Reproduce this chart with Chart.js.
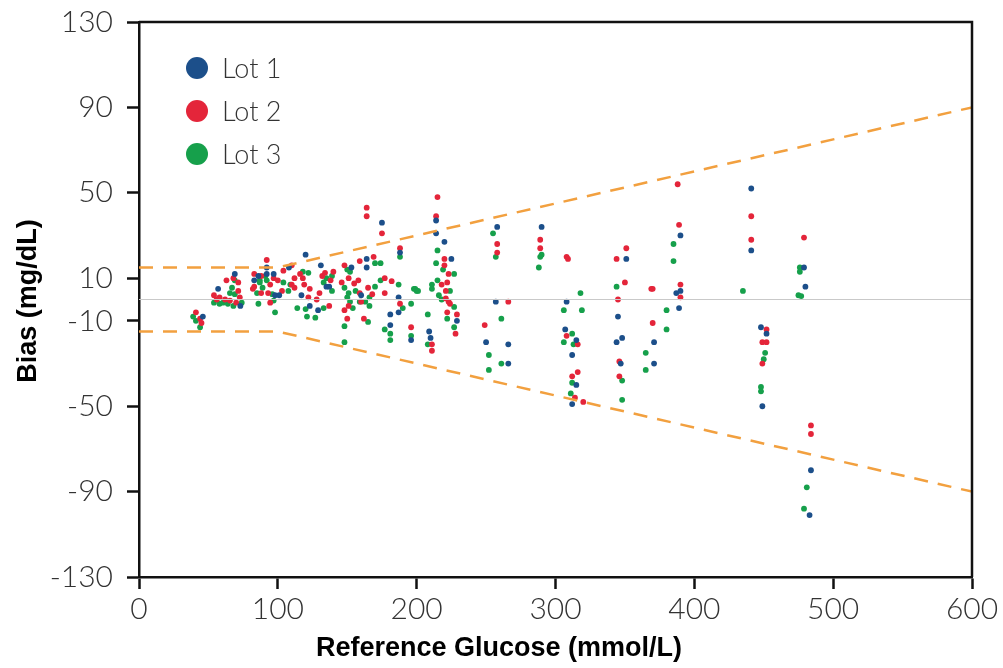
<!DOCTYPE html>
<html>
<head>
<meta charset="utf-8">
<script src="https://cdn.jsdelivr.net/npm/chart.js@4.4.1/dist/chart.umd.min.js"></script>
<style>
    html, body { margin: 0; padding: 0; background: #fff; }
    #wrap { width: 1003px; height: 668px; }
</style>
</head>
<body>
<div id="wrap"><canvas id="biasChart" width="1003" height="668"></canvas></div>
<script>
// ticks
var xTicks = [0, 100, 200, 300, 400, 500, 600];
var yTicks = [-130, -90, -50, -10, 10, 50, 90, 130];

// series labels + colours
var lotNames = ['Lot 1', 'Lot 2', 'Lot 3'];
var lotColors = ['#1c4f8a', '#e4253a', '#16a04b'];

// [reference glucose, bias]
var lot1 = [[46,-8],[57,5],[69,12],[73,-3],[83,9],[86,11],[92,12],[92,15],[97,12],[98,2],[101,2],[108,15],
    [117,2],[120,21],[123,-3],[129,-5],[131,16],[135,6],[137,6],[153,15],[160,2],[164,19],[164,15],[175,36],
    [181,-7],[181,-12],[187,1],[187,-6],[188,22],[196,-19],[209,-15],[210,-18],[214,37],[214,31],[220,27],
    [225,19],[229,-10],[250,-20],[257,-1],[258,34],[266,-21],[266,-30],[290,34],[307,-14],[308,-1],[312,-26],
    [315,-19],[315,-40],[312,-49],[344,-20],[345,-8],[347,-30],[348,-18],[351,19],[371,-20],[371,-30],
    [387,3],[390,4],[389,-4],[390,30],[441,52],[441,23],[448,-13],[452,-16],[449,-50],[479,15],[480,6],
    [484,-80],[483,-101]];

var lot2 = [[41,-6],[44,-9],[45,-11],[54,2],[56,0],[58,1],[62,0],[63,9],[65.5,-0.5],[68,10],[70,-1.5],
    [71.5,8],[71.5,4],[72.6,1],[82,5],[83,12],[83,6],[88,11],[88,3],[92,18.5],[93,3],[94.5,7],[94.5,-1.5],
    [97,10],[100,9],[103,4],[104,13.5],[110,16],[110,7],[112,10],[112,5.5],[116,12],[118,10],[119,7],[122,1],
    [123,5],[128,0],[130,3],[132,11],[134,12.5],[137,-3],[138,9],[140,13],[146,8],[148,16],[148,-5],[150,-9],
    [151,10],[151,-3],[155,7.5],[158,9],[159,18],[159,3],[160,-1],[162,-9],[164,43],[164,39],[165,5.5],
    [168,2.5],[169,20],[175,31],[177,10],[177,3],[182,8.6],[188,24],[188,-2],[196,-13],[211,-21],[211,-24],
    [215,48],[214,39],[218,7],[220,19],[220,16],[221,4],[221,0.5],[222,8],[222,-6],[223,12],[223,-1],[224,-2],
    [228,-16],[229,-7],[249,-12],[258,26],[258,22],[266,-1],[289,28],[289,24],[308,20],[309,19],[308,-17],
    [316,-21],[316,-34],[312,-36],[314,-46],[320,-48],[344,19],[345,0],[346,-29],[346,-36],[350,8],[351,24],
    [369,5],[370,5],[370,-11],[389,35],[390,7],[390,1],[388,54],[441,39],[441,28],[452,-14],[449,-20],
    [452,-20],[449,-30],[479,29],[484,-59],[484,-63]];

var lot3 = [[39,-8],[41,-10],[44,-13],[54,-1.5],[58,-2],[60.5,-1.5],[64,-2],[65.5,3],[67,5.5],[68,-3],[69,9],
    [69,2.5],[74,-1.5],[85,3],[86,-2],[87,9],[87,8],[89,5.5],[91,11],[92,9],[96,2.5],[97,-0.5],[98,-6],[104,8],
    [107.6,4],[109,7],[114,-4],[118,13],[120,-4.5],[121,-8],[122,12.5],[127,-8.5],[133,8],[133,-4],[135,10],
    [139,4],[139,11],[148,5.5],[148,-12.5],[148,-20],[150,14],[150,1],[151,3],[152,13],[152,-1],[154,-4],
    [156,4],[159,-1],[163,-1],[165,-10.5],[166,1],[166,-3],[170,17],[170,6],[174,17],[174,9],[177,-14],
    [181,-16],[181,-19],[187,7],[188,20],[190,-4],[196,-2],[196,-17],[198,5],[199,5],[200,4],[201,4],[208,-7],
    [208,-21],[211,7],[211,5],[214,17],[215,23],[215,9],[216,2],[218,0],[219,14],[222,-9],[224,4],[227,12],
    [227,-3.5],[227,-13],[252,-26],[252,-33],[255,31],[257,20],[261,-9],[261,-30],[288,15],[289,20],[290,21],
    [306,-5],[306,-20],[311,-44],[312,-16],[312,-39],[313,-21],[318,3],[319,-5],[344,6],[348,-38],[348,-47],
    [365,-25],[365,-33],[380,-5],[380,-14],[385,26],[385,18],[435,4],[448,-41],[448,-43],[450,-28],[451,-25],
    [476,15],[476,13],[475,2],[477,1.6],[481,-88],[479,-98]];

// +/-15 mg/dL below 100, +/-15% above
var limitX = [0, 100, 600];
var upperLimit = [15, 15, 90];
var lowerLimit = [-15, -15, -90];

function toPoints(arr) {
    return arr.map(function (p) { return { x: p[0], y: p[1] }; });
}

function limitPoints(ys) {
    return limitX.map(function (x, i) { return { x: x, y: ys[i] }; });
}

var tickFont = { family: 'Lato, "Open Sans", sans-serif', size: 30, weight: '300' };

// box, legend and axis titles
var decorPlugin = {
    id: 'decor',
    afterDraw: function (chart) {
        var ctx = chart.ctx;
        var a = chart.chartArea;
        ctx.save();
        ctx.strokeStyle = '#111';
        ctx.lineWidth = 2.5;
        ctx.beginPath();
        ctx.moveTo(a.left, a.top);
        ctx.lineTo(a.right, a.top);
        ctx.lineTo(a.right, a.bottom);
        ctx.stroke();

        // legend
        ctx.font = '300 27px Lato, "Open Sans", sans-serif';
        ctx.textBaseline = 'middle';
        ctx.textAlign = 'left';
        lotNames.forEach(function (name, i) {
            var cy = 68 + i * 43;
            ctx.fillStyle = lotColors[i];
            ctx.beginPath();
            ctx.arc(197, cy, 11, 0, Math.PI * 2);
            ctx.fill();
            ctx.fillStyle = '#333';
            ctx.fillText(name, 222, cy + 1);
        });

        // titles
        ctx.fillStyle = '#000';
        ctx.font = 'bold 27px "Liberation Sans", Arial, sans-serif';
        ctx.textAlign = 'center';
        ctx.fillText('Reference Glucose (mmol/L)', 499, 649);
        ctx.translate(29, 301);
        ctx.rotate(-Math.PI / 2);
        ctx.fillText('Bias (mg/dL)', 0, 0);
        ctx.restore();
    }
};

var scatterDs = [lot1, lot2, lot3].map(function (arr, i) {
    return {
        type: 'scatter',
        label: lotNames[i],
        data: toPoints(arr),
        backgroundColor: lotColors[i],
        borderColor: lotColors[i],
        borderWidth: 0,
        pointRadius: 2.9
    };
});

var lineDs = [
    { type: 'line', label: 'zero', data: [{ x: 0, y: 0 }, { x: 600, y: 0 }],
      borderColor: '#c9c9c9', borderWidth: 1.2, pointRadius: 0 },
    { type: 'line', label: 'upper', data: limitPoints(upperLimit),
      borderColor: '#f2a03f', borderWidth: 2.5, borderDash: [14, 10], pointRadius: 0 },
    { type: 'line', label: 'lower', data: limitPoints(lowerLimit),
      borderColor: '#f2a03f', borderWidth: 2.5, borderDash: [14, 10], pointRadius: 0 }
];

new Chart(document.getElementById('biasChart'), {
    data: { datasets: lineDs.concat(scatterDs) },
    options: {
        responsive: false,
        animation: false,
        layout: { padding: { top: 22, right: 31, left: 0, bottom: 0 } },
        plugins: {
            legend: { display: false },
            tooltip: { enabled: false }
        },
        scales: {
            x: {
                type: 'linear',
                min: 0,
                max: 600,
                afterBuildTicks: function (scale) {
                    scale.ticks = xTicks.map(function (v) { return { value: v }; });
                },
                afterFit: function (scale) {
                    scale.height = 91;
                    scale.paddingLeft = 0;
                    scale.paddingRight = 0;
                },
                ticks: { font: tickFont, color: '#333', padding: 2, maxRotation: 0 },
                grid: { drawOnChartArea: false, tickLength: 12, tickWidth: 2.5, tickColor: '#111' },
                border: { color: '#111', width: 2.5 }
            },
            y: {
                type: 'linear',
                min: -130,
                max: 130,
                afterBuildTicks: function (scale) {
                    scale.ticks = yTicks.map(function (v) { return { value: v }; });
                },
                afterFit: function (scale) {
                    scale.width = 139;
                    scale.paddingTop = 0;
                    scale.paddingBottom = 0;
                },
                ticks: { font: tickFont, color: '#333', padding: 14 },
                grid: { drawOnChartArea: false, tickLength: 12, tickWidth: 2.5, tickColor: '#111' },
                border: { color: '#111', width: 2.5 }
            }
        }
    },
    plugins: [decorPlugin]
});
</script>
</body>
</html>
